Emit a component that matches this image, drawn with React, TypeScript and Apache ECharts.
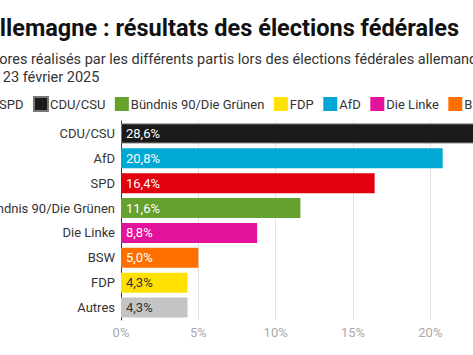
import React, { useEffect, useRef } from "react";
import * as echarts from "echarts";

const categories = ["CDU/CSU", "AfD", "SPD", "Bündnis 90/Die Grünen", "Die Linke", "BSW", "FDP", "Autres"];
const values = [28.6, 20.8, 16.4, 11.6, 8.8, 5.0, 4.3, 4.3];
const colors = ["#1a1a1a", "#00a9d4", "#e3000f", "#64a12d", "#e3129b", "#ff6f00", "#ffe000", "#c4c4c4"];
const labelColors = ["#ffffff", "#ffffff", "#ffffff", "#ffffff", "#ffffff", "#ffffff", "#333333", "#333333"];
const legendOrder = ["SPD", "CDU/CSU", "Bündnis 90/Die Grünen", "FDP", "AfD", "Die Linke", "BSW", "Autres"];
const xTicks = [0, 5, 10, 15, 20, 25, 30];

const FONT = "Roboto";

export default function App() {
  const ref = useRef<HTMLDivElement>(null);
  useEffect(() => {
    if (!ref.current) return;
    const chart = echarts.init(ref.current, undefined, { renderer: "svg" });
    const series = categories.map((name, i) => ({
      name,
      type: "bar",
      barWidth: 20,
      barGap: "-100%",
      data: categories.map((_, j) => (j === i ? values[i] : null)),
      itemStyle: {
        color: colors[i],
        borderColor: i === 0 ? "#777" : colors[i],
        borderWidth: i === 0 ? 1 : 0,
      },
      label: {
        show: true,
        position: "insideLeft",
        distance: 5,
        color: labelColors[i],
        fontSize: 13,
        fontFamily: FONT,
        formatter: (p: any) => p.value.toFixed(1).replace(".", ",") + "%",
      },
    }));
    chart.setOption({
      animation: false,
      backgroundColor: "#ffffff",
      textStyle: { fontFamily: FONT },
      title: [
        {
          text: "Allemagne : résultats des élections fédérales",
          left: -16,
          top: 16,
          padding: 0,
          textStyle: { fontSize: 23.5, fontWeight: "bold", color: "#111", fontFamily: FONT },
        },
        {
          text: "Scores réalisés par les différents partis lors des élections fédérales allemandes\ndu 23 février 2025",
          left: -17,
          top: 50,
          padding: 0,
          textStyle: { fontSize: 14.5, fontWeight: "normal", color: "#333", lineHeight: 18, fontFamily: FONT },
        },
      ],
      legend: {
        data: legendOrder,
        left: -17,
        top: 96,
        padding: 0,
        width: 1500,
        itemWidth: 14,
        itemHeight: 14,
        itemGap: 9.5,
        icon: "rect",
        textStyle: { fontSize: 13, color: "#333", fontFamily: FONT, padding: [0, 0, 0, -3] },
      },
      grid: { left: 121, top: 121, height: 199, width: 464, containLabel: false, outerBoundsMode: "none" },
      xAxis: {
        type: "value",
        min: xTicks[0],
        max: xTicks[xTicks.length - 1],
        interval: 5,
        axisLine: { show: false },
        axisTick: { show: false },
        splitLine: { lineStyle: { color: "#e4e4e4", width: 1 } },
        axisLabel: { formatter: "{value}%", color: "#aaa", fontSize: 13, margin: 6, fontFamily: FONT },
      },
      yAxis: {
        type: "category",
        inverse: true,
        data: categories,
        axisLine: { show: true, lineStyle: { color: "#333", width: 1 } },
        axisTick: { show: false },
        axisLabel: { color: "#333", fontSize: 13, margin: 6, fontFamily: FONT },
      },
      series,
    });
    return () => chart.dispose();
  }, []);
  return (
    <div style={{ position: "fixed", left: 0, top: 0, width: 473, height: 355, overflow: "hidden", background: "#fff" }}>
      <div ref={ref} style={{ width: 473, height: 355 }} />
    </div>
  );
}
